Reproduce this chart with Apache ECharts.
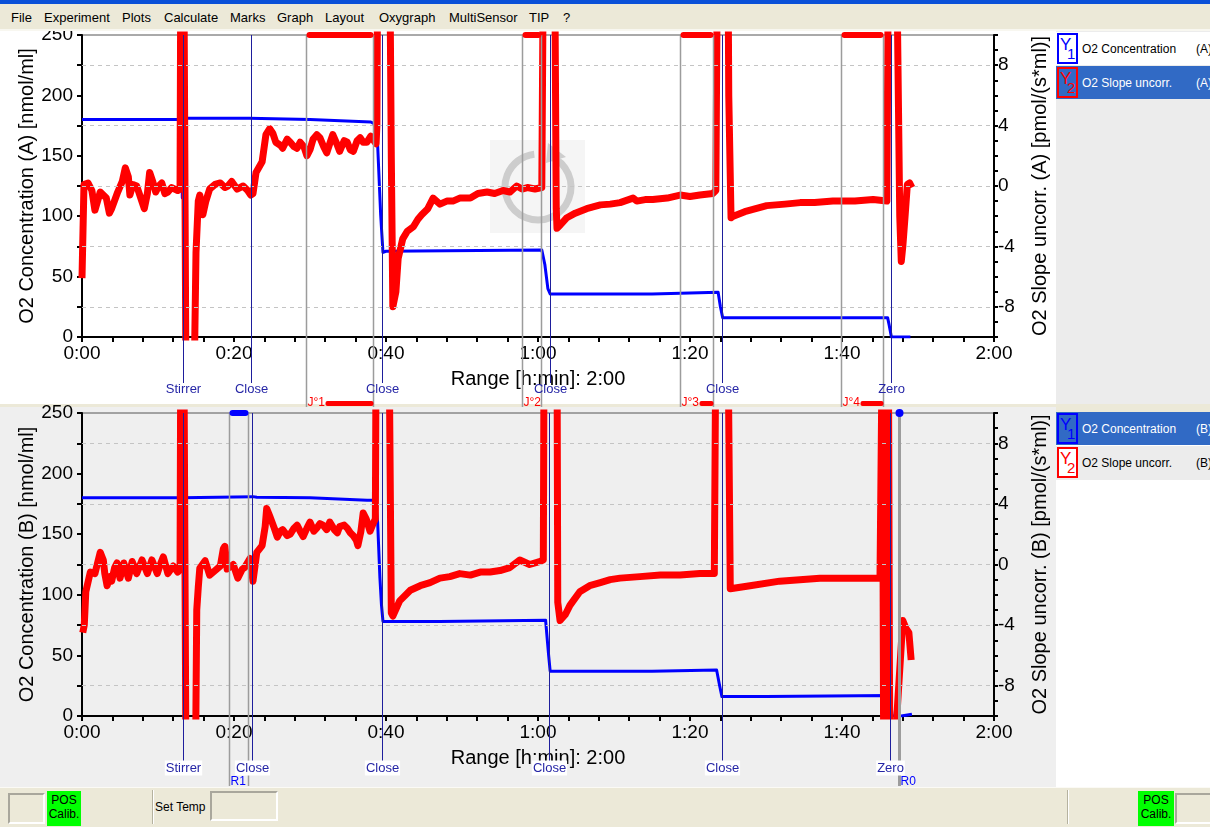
<!DOCTYPE html>
<html>
<head>
<meta charset="utf-8">
<title>Oxygraph</title>
<script src="https://cdn.jsdelivr.net/npm/echarts@6/dist/echarts.min.js"></script>
<style>
body { margin:0; width:1210px; height:827px; position:relative; overflow:hidden; background:#ece9d8; font-family:"Liberation Sans", Arial, sans-serif; }
.abs { position:absolute; }
#titlebar { left:0; top:0; width:1210px; height:4px; background:#0a50d8; }
#menu { left:0; top:4px; width:1210px; height:25px; background:#ece9d8; border-bottom:2px solid #f8f7f0; }
.mi { position:absolute; top:6px; font-size:13px; color:#000; }
#panelA { left:0; top:31px; width:1056px; height:373px; background:#fff; }
#panelB { left:0; top:407px; width:1056px; height:380px; background:#efefef; }
#legA { left:1056px; top:31px; width:154px; height:373px; background:#ececec; }
#legB { left:1056px; top:407px; width:154px; height:380px; background:#fff; }
.row { position:absolute; left:0; width:154px; font-size:12px; }
.row .nm { position:absolute; left:26px; top:10px; }
.row .ch { position:absolute; left:140px; top:10px; }
.yb { position:absolute; left:1px; top:1px; width:17px; height:27px; border:2px solid; }
.yb span { position:absolute; left:1px; top:0px; font-size:17px; }
.yb sub { position:absolute; left:8px; top:10px; font-size:15px; }
#main { left:0; top:31px; width:1056px; height:756px; }
#status { left:0; top:787px; width:1210px; height:40px; background:#ece9d8; border-top:1px solid #fbfaf5; }
.sunk { position:absolute; border:2px solid; border-color:#a9a79c #fff #fff #a9a79c; }
.green { position:absolute; background:#00ff00; font-size:12px; line-height:14px; text-align:center; color:#000; }
.sep { position:absolute; top:2px; width:1px; height:34px; background:#b5b29f; border-right:1px solid #fff; }
</style>
</head>
<body>
<div id="titlebar" class="abs"></div>
<div id="menu" class="abs">
  <div class="mi" style="left:11px">File</div>
  <div class="mi" style="left:44px">Experiment</div>
  <div class="mi" style="left:122px">Plots</div>
  <div class="mi" style="left:164px">Calculate</div>
  <div class="mi" style="left:230px">Marks</div>
  <div class="mi" style="left:277px">Graph</div>
  <div class="mi" style="left:325px">Layout</div>
  <div class="mi" style="left:379px">Oxygraph</div>
  <div class="mi" style="left:449px">MultiSensor</div>
  <div class="mi" style="left:529px">TIP</div>
  <div class="mi" style="left:563px">?</div>
</div>
<div id="panelA" class="abs"></div>
<div id="panelB" class="abs"></div>

<div id="legA" class="abs">
  <div class="row" style="top:1px;height:33px;background:#fff">
    <div class="yb" style="border-color:#0000ff;color:#0000ff"><span>Y</span><sub>1</sub></div>
    <div class="nm">O2 Concentration</div><div class="ch">(A)</div>
  </div>
  <div class="row" style="top:35px;height:33px;background:#316ac5;color:#fff">
    <div class="yb" style="border-color:#ff0000;color:#ff0000"><span>Y</span><sub>2</sub></div>
    <div class="nm">O2 Slope uncorr.</div><div class="ch">(A)</div>
  </div>
</div>
<div id="legB" class="abs">
  <div class="row" style="top:0px;height:5px;background:#ece9d8"></div>
  <div class="row" style="top:5px;height:33px;background:#316ac5;color:#fff">
    <div class="yb" style="border-color:#0000ff;color:#0000ff"><span>Y</span><sub>1</sub></div>
    <div class="nm">O2 Concentration</div><div class="ch">(B)</div>
  </div>
  <div class="row" style="top:39px;height:34px;background:#ececec">
    <div class="yb" style="border-color:#ff0000;color:#ff0000;background:#fff"><span>Y</span><sub>2</sub></div>
    <div class="nm">O2 Slope uncorr.</div><div class="ch">(B)</div>
  </div>
</div>

<div id="main" class="abs"></div>

<div id="status" class="abs">
  <div class="sunk" style="left:8px;top:5px;width:33px;height:27px"></div>
  <div class="green" style="left:47px;top:3px;width:34px;height:33px;padding-top:2px">POS<br>Calib.</div>
  <div class="sep" style="left:152px"></div>
  <div class="abs" style="left:155px;top:12px;font-size:12px">Set Temp</div>
  <div class="sunk" style="left:210px;top:3px;width:64px;height:26px"></div>
  <div class="sep" style="left:1067px"></div>
  <div class="green" style="left:1138px;top:3px;width:36px;height:33px;padding-top:2px">POS<br>Calib.</div>
  <div class="sunk" style="left:1175px;top:5px;width:40px;height:27px"></div>
</div>

<script>
// time in minutes; concentration in nmol/ml (left axis), slope in pmol/(s*ml) (right axis)
var concA = [[0,180],[13.0,180],[13.2,115],[13.4,181],[22,181],[30,180],[38,178],[38.6,176],[38.9,159],[39.3,101],[39.6,70],[40,71],
  [48,71.5],[48.1,72],[60.5,72],[60.9,60],[61.3,40],[61.6,35.6],[75,35.6],[75.1,37],[83.7,37],[84.0,25],[84.3,16],[106.0,16],[106.2,10],[106.5,0],[109.0,0]];

var slopeA = [[0,-6.1],[0.26,0.1],[0.8,0.2],[1.3,-0.3],[1.7,-1.6],[2.4,-0.4],[3.2,-0.8],[3.6,-1.8],[3.9,-1.5],[4.7,-0.4],[5.3,0.3],[5.7,1.2],
  [6.1,0.6],[6.3,-0.6],[6.7,0.1],[7.2,0.0],[7.8,-0.9],[8.2,-1.5],[8.6,-0.5],[8.9,0.9],[9.3,0.3],[9.7,-0.4],[10.1,0.0],[10.5,0.2],[10.9,-0.5],
  [11.3,-0.4],[11.8,-0.1],[12.2,-0.2],[12.6,-0.3],[12.9,-0.2],[13.0,15],[13.4,15],[13.7,-15],[14.7,-15],[15.0,-4.4],[15.3,-1.0],[15.5,-0.6],
  [15.9,-1.9],[16.3,-1.0],[16.8,-0.2],[17.5,0.1],[18.2,0.2],[18.8,-0.1],[19.2,0.0],[19.7,0.3],[20.4,-0.2],[21.2,0.0],[21.8,-0.3],[22.2,-0.6],
  [22.5,-0.5],[22.9,0.9],[23.7,1.6],[24.2,3.4],[24.7,3.8],[25.1,3.5],[25.5,2.9],[26.1,2.7],[26.4,2.5],[27.0,3.1],[27.4,2.9],[27.9,2.6],
  [28.3,2.5],[28.7,2.9],[29.2,2.6],[29.6,2.0],[30.0,2.4],[30.4,3.1],[30.9,3.4],[31.3,3.2],[31.8,2.6],[32.2,2.2],[32.6,2.8],[33.0,3.4],
  [33.6,2.7],[33.9,2.3],[34.5,3.0],[34.9,2.9],[35.3,2.4],[35.7,2.3],[36.2,3.0],[36.6,3.2],[37.0,2.9],[37.5,2.9],[38.0,3.3],[38.4,3.0],
  [38.7,2.8],[38.8,4.0],[38.9,15],[40.5,15],[40.7,1.85],[40.9,-8.0],[41.3,-7.0],[41.6,-4.8],[42.2,-3.5],[42.8,-3.0],[43.6,-2.7],[44.2,-2.2],
  [44.7,-1.9],[45.5,-1.5],[46.2,-0.8],[47.1,-1.2],[48.0,-1.0],[48.8,-1.0],[49.7,-0.8],[51.1,-0.8],[52.1,-0.5],[53.3,-0.4],[54.3,-0.5],
  [55.4,-0.3],[56.3,-0.4],[57.2,0.0],[57.9,-0.2],[58.6,-0.1],[59.6,-0.2],[60.5,-0.1],[60.7,15],[62.2,15],[62.4,-1.5],[62.5,-2.8],[62.9,-2.6],
  [63.8,-2.1],[64.9,-1.8],[66.4,-1.5],[68.2,-1.25],[69.5,-1.2],[70.8,-1.1],[72.5,-0.8],[73.0,-1.0],[74.1,-0.9],[75.1,-0.9],[77.0,-0.8],
  [78.7,-0.6],[80.0,-0.7],[81.3,-0.6],[83.0,-0.5],[83.4,-0.3],[83.6,15],[85.0,15],[85.1,6],[85.4,-2.1],[85.7,-2.0],[87.2,-1.7],[90.1,-1.3],
  [92.5,-1.2],[94.5,-1.1],[96.4,-1.1],[98.8,-1.0],[101.7,-1.0],[104.1,-0.9],[105.9,-1.0],[106.1,15],[107.2,15],[107.6,-2],[107.8,-5.0],
  [108.0,-4.0],[108.3,-2.0],[108.6,0.1],[108.9,0.2],[109.2,-0.1]];

var concB = [[0,180],[9.8,180],[10.0,181],[10.5,180],[13.2,180],[13.4,181],[22.5,181],[23,180.5],[30,180],[37.5,178],[38.6,178],[38.9,160],
  [39.2,114],[39.4,92],[39.6,78],[47,78],[47.1,79],[61.0,79],[61.4,50],[61.6,37],[75,37],[75.1,38],[83.5,38],[83.9,25],[84.2,16],[90,16],
  [90.1,17],[106.3,17],[106.6,0],[107.8,0],[108.0,1.5],[109.2,1.5]];

var slopeB = [[0.1,-4.5],[0.3,-4.0],[0.5,-1.8],[1.1,-0.5],[1.7,-0.6],[2.4,0.8],[2.8,0.3],[3.0,-0.6],[3.3,-1.4],[3.7,-0.8],[3.9,-1.1],
  [4.3,-0.2],[4.6,0.1],[5.0,-0.9],[5.5,0.1],[6.1,-0.9],[6.6,0.2],[7.0,-0.3],[7.2,-0.6],[7.9,0.3],[8.6,-0.6],[9.2,0.3],[9.9,-0.6],[10.3,0.0],
  [10.7,0.5],[11.3,-0.6],[12.0,-0.1],[12.6,-0.5],[12.9,-0.3],[13.0,15],[13.4,15],[13.7,-15],[14.9,-15],[15.1,-3],[15.3,-1.5],[15.5,-0.25],
  [16.2,0.25],[16.8,-0.7],[17.5,-0.4],[18.2,-0.1],[18.6,1.05],[18.8,1.2],[19.1,-0.3],[19.9,0.0],[20.5,-0.9],[21.1,-0.3],[21.4,-0.2],
  [22.1,0.4],[22.5,-1.1],[23.0,0.8],[23.7,1.25],[24.1,2.5],[24.3,3.7],[24.7,3.2],[25.3,2.4],[25.7,1.8],[26.1,2.2],[26.4,2.3],[27.0,1.9],
  [27.4,2.0],[27.9,2.4],[28.3,2.6],[28.7,2.2],[29.1,1.85],[29.6,2.4],[30.0,2.8],[30.5,2.2],[30.9,2.4],[31.3,2.7],[31.7,2.6],[32.2,2.3],
  [32.6,2.8],[33.2,2.3],[33.6,2.1],[33.9,2.5],[34.5,2.6],[34.9,2.4],[35.3,2.1],[35.7,1.9],[36.1,1.6],[36.3,1.25],[36.7,2.2],[37.0,3.4],
  [37.4,3.0],[37.9,2.2],[38.3,2.7],[38.6,3.0],[38.7,15],[40.4,15],[40.7,-3.2],[40.9,-3.4],[41.8,-2.4],[43.2,-1.7],[44.5,-1.4],[45.8,-1.2],
  [47.1,-0.9],[48.4,-0.8],[49.7,-0.6],[51.1,-0.7],[52.4,-0.5],[53.7,-0.5],[55.0,-0.4],[56.3,-0.2],[57.6,0.3],[58.9,0.0],[60.3,0.2],
  [60.7,0.3],[60.8,15],[62.5,15],[62.6,-2.5],[62.9,-3.7],[63.6,-3.3],[64.2,-2.7],[65.5,-1.8],[66.8,-1.4],[68.2,-1.2],[69.5,-1.0],[70.8,-0.9],
  [73.4,-0.8],[76.1,-0.7],[78.7,-0.7],[81.3,-0.6],[83.2,-0.6],[83.4,15],[85.0,15],[85.3,-1.6],[86.6,-1.5],[87.9,-1.4],[91.8,-1.1],
  [97.1,-0.9],[102.4,-0.9],[105.0,-0.9],[105.3,15],[105.5,-15],[106.1,15],[106.3,-15],[106.6,-15],[108.0,-3.7],[108.4,-4.2],[108.8,-4.5],
  [109.1,-6.3]];

// events: [time, label]; marks: [start, end, label]
var eventsA = [[13.3,'Stirrer'],[22.2,'Close'],[39.5,'Close'],[61.6,'Close'],[84.2,'Close'],[106.4,'Zero']];
var marksA = [[29.5,38.3,'J°1'],[57.9,60.4,'J°2'],[78.7,83.0,'J°3'],[99.9,105.4,'J°4']];
var eventsB = [[13.3,'Stirrer'],[22.4,'Close'],[39.5,'Close'],[61.4,'Close'],[84.2,'Close'],[106.3,'Zero']];
var marksB = [[19.3,21.8,'R1'],[107.5,107.5,'R0']];

var gridVals = [-8, -4, 0, 4, 8];

var font = 'Liberation Sans';
var chart = echarts.init(document.getElementById('main'));

function hm(v) {
    if (v % 20 !== 0) return '';
    var h = Math.floor(v / 60), m = v % 60;
    return h + ':' + (m < 10 ? '0' : '') + m;
}

function xAxisFor(g) {
    return {
        type: 'value', gridIndex: g, min: 0, max: 120, interval: 4,
        name: 'Range [h:min]: 2:00', nameLocation: 'middle', nameGap: 32, nameMoveOverlap: false,
        nameTextStyle: { fontFamily: font, fontSize: 20, color: '#000' },
        axisLine: { show: true, onZero: false, lineStyle: { color: '#000', width: 2 } },
        axisTick: { show: true, length: 5, lineStyle: { color: '#000', width: 2 } },
        axisLabel: { formatter: hm, fontFamily: font, fontSize: 19, color: '#000', margin: 7 },
        splitLine: { show: false }
    };
}

function leftAxisFor(g, ch) {
    return {
        type: 'value', gridIndex: g, position: 'left', min: 0, max: 250, interval: 25,
        name: 'O2 Concentration (' + ch + ') [nmol/ml]', nameLocation: 'middle', nameRotate: 90, nameGap: 45, nameMoveOverlap: false,
        nameTextStyle: { fontFamily: font, fontSize: 20, color: '#000' },
        axisLine: { show: true, onZero: false, lineStyle: { color: '#000', width: 2 } },
        axisTick: { show: true, length: 5, lineStyle: { color: '#000', width: 2 } },
        axisLabel: { formatter: function (v) { return v % 50 === 0 ? v : ''; }, fontFamily: font, fontSize: 19, color: '#000', margin: 9 },
        splitLine: { show: false }
    };
}

function rightAxisFor(g, ch) {
    return {
        type: 'value', gridIndex: g, position: 'right', min: -10, max: 10, interval: 1,
        name: 'O2 Slope uncorr. (' + ch + ') [pmol/(s*ml)]', nameLocation: 'middle', nameRotate: 90, nameGap: 36, nameMoveOverlap: false,
        nameTextStyle: { fontFamily: font, fontSize: 20, color: '#000' },
        axisLine: { show: true, onZero: false, lineStyle: { color: '#000', width: 2 } },
        axisTick: { show: true, length: 4, lineStyle: { color: '#000', width: 2 } },
        axisLabel: { formatter: function (v) { return (v % 4 === 0 && Math.abs(v) < 10) ? v : ''; }, fontFamily: font, fontSize: 19, color: '#000', margin: 4 },
        splitLine: { show: false }
    };
}

function gridSeries(xi, yi) {
    return {
        type: 'line', xAxisIndex: xi, yAxisIndex: yi, data: [], z: 1, silent: true,
        markLine: {
            silent: true, symbol: ['none', 'none'], label: { show: false }, animation: false,
            lineStyle: { color: '#c4c4c4', type: [4, 4], width: 1 },
            data: gridVals.map(function (v) { return { yAxis: v }; })
        }
    };
}

function lineSeries(xi, yi, data, color, width, z) {
    return {
        type: 'line', xAxisIndex: xi, yAxisIndex: yi, data: data, showSymbol: false, silent: true, z: z,
        lineStyle: { color: color, width: width, join: 'round' }
    };
}

var option = {
    animation: false,
    grid: [
        { left: 82, top: 4, width: 912, height: 302, outerBoundsMode: 'none', containLabel: false, show: true, borderColor: '#555', borderWidth: 1, backgroundColor: 'transparent' },
        { left: 82, top: 382, width: 912, height: 303, outerBoundsMode: 'none', containLabel: false, show: true, borderColor: '#555', borderWidth: 1, backgroundColor: 'transparent' }
    ],
    xAxis: [xAxisFor(0), xAxisFor(1)],
    yAxis: [leftAxisFor(0, 'A'), rightAxisFor(0, 'A'), leftAxisFor(1, 'B'), rightAxisFor(1, 'B')],
    series: [
        gridSeries(0, 1),
        gridSeries(1, 3),
        lineSeries(0, 0, concA, '#0000ff', 3, 3),
        lineSeries(0, 1, slopeA, '#ff0000', 7, 4),
        lineSeries(1, 2, concB, '#0000ff', 3, 3),
        lineSeries(1, 3, slopeB, '#ff0000', 7, 4)
    ]
};
chart.setOption(option);

// marks and event lines, placed through the axes
function px(xi, t) { return Math.round(chart.convertToPixel({ xAxisIndex: xi }, t)) + 0.5; }
function py(yi, v) { return Math.round(chart.convertToPixel({ yAxisIndex: yi }, v)); }

var gfx = [];

// faint logo in panel A
gfx.push({ type: 'rect', z: 0, silent: true, shape: { x: 490, y: 109, width: 95, height: 93 }, style: { fill: '#f5f5f5' } });
gfx.push({ type: 'arc', z: 0, silent: true, shape: { cx: 538, cy: 156, r: 33, startAngle: -1.2, endAngle: 4.6 }, style: { stroke: '#cdcdcd', lineWidth: 7, fill: null } });
gfx.push({ type: 'polygon', z: 0, silent: true, shape: { points: [[548, 112], [566, 126], [546, 132]] }, style: { fill: '#cdcdcd' } });

function addPanel(xi, yi, events, marks, markColor, labelBg, bottomBar) {
    var top = py(yi, 250), bottom = py(yi, 0);
    events.forEach(function (e) {
        var x = px(xi, e[0]);
        gfx.push({ type: 'line', z: 50, silent: true, shape: { x1: x, y1: top, x2: x, y2: bottom + 46 }, style: { stroke: '#1e1e9c', lineWidth: 1 } });
        gfx.push({ type: 'text', z: 51, silent: true, x: x, y: bottom + 52,
            style: { text: e[1], fill: '#2626a6', font: '13px "Liberation Sans"', align: 'center', verticalAlign: 'middle', backgroundColor: labelBg, padding: [1, 1] } });
    });
    marks.forEach(function (m) {
        var x0 = px(xi, m[0]), x1 = px(xi, m[1]);
        var w = (x0 === x1) ? 3 : 1.5;
        gfx.push({ type: 'line', z: 49, silent: true, shape: { x1: x0, y1: top, x2: x0, y2: bottom + 70 }, style: { stroke: '#9c9c9c', lineWidth: w } });
        if (x1 !== x0) {
            gfx.push({ type: 'line', z: 49, silent: true, shape: { x1: x1, y1: top, x2: x1, y2: bottom + 70 }, style: { stroke: '#9c9c9c', lineWidth: w } });
            gfx.push({ type: 'rect', z: 52, silent: true, shape: { x: x0, y: top - 3, width: x1 - x0, height: 6, r: 3 }, style: { fill: markColor } });
        } else {
            gfx.push({ type: 'circle', z: 52, silent: true, shape: { cx: x0, cy: top, r: 4 }, style: { fill: markColor } });
        }
        gfx.push({ type: 'text', z: 51, silent: true, x: x0 + 1, y: bottom + 66,
            style: { text: m[2], fill: markColor, font: '12px "Liberation Sans"', align: 'left', verticalAlign: 'middle' } });
        if (bottomBar && x1 - (x0 + 19) > 3) {
            gfx.push({ type: 'rect', z: 52, silent: true, shape: { x: x0 + 19, y: bottom + 64, width: x1 - x0 - 19, height: 5, r: 2 }, style: { fill: markColor } });
        }
    });
}

addPanel(0, 0, eventsA, marksA, '#ff0000', null, true);
addPanel(1, 2, eventsB, marksB, '#0000ff', '#ffffff', false);

chart.setOption({ graphic: gfx });
</script>
</body>
</html>
